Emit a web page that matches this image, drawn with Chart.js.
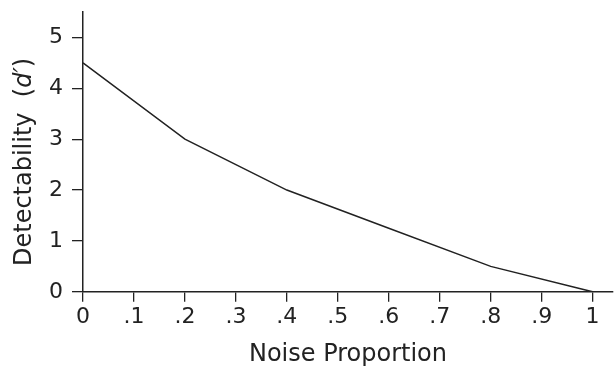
<!DOCTYPE html>
<html>
<head>
<meta charset="utf-8">
<script src="https://cdn.jsdelivr.net/npm/chart.js@4"></script>
<style>
  html, body { margin: 0; padding: 0; background: #fff; }
  #wrap { width: 615px; height: 373px; }
</style>
</head>
<body>
<div id="wrap"><canvas id="chart"></canvas></div>
<script>
const noise = [0, 0.2, 0.4, 0.6, 0.8, 1];
const dPrime = [4.5, 3, 2, 1.25, 0.5, 0];
const xTicks = [0, 0.1, 0.2, 0.3, 0.4, 0.5, 0.6, 0.7, 0.8, 0.9, 1];
const xTickLabels = ["0", ".1", ".2", ".3", ".4", ".5", ".6", ".7", ".8", ".9", "1"];
const yTicks = [0, 1, 2, 3, 4, 5];

const ink = "#222";
const font = "DejaVu Sans";

// y title has an italic d', so draw it by hand
const yTitle = {
  id: "yTitle",
  afterDraw(chart) {
    const ctx = chart.ctx;
    const area = chart.chartArea;
    const parts = [
      { text: "Detectability  (", style: "" },
      { text: "d\u2032", style: "italic " },
      { text: ")", style: "" }
    ];
    ctx.save();
    let total = 0;
    parts.forEach(p => {
      ctx.font = p.style + "24px '" + font + "'";
      p.w = ctx.measureText(p.text).width;
      total += p.w;
    });
    ctx.translate(25, (area.top + area.bottom) / 2 + 10);
    ctx.rotate(-Math.PI / 2);
    ctx.fillStyle = ink;
    ctx.textBaseline = "middle";
    let x = -total / 2;
    parts.forEach(p => {
      ctx.font = p.style + "24px '" + font + "'";
      ctx.fillText(p.text, x, 0);
      x += p.w;
    });
    ctx.restore();
  }
};

new Chart(document.getElementById("chart"), {
  type: "line",
  data: {
    datasets: [{
      data: noise.map((x, i) => ({ x: x, y: dPrime[i] })),
      borderColor: ink,
      borderWidth: 1.5,
      pointRadius: 0,
      fill: false,
      tension: 0
    }]
  },
  options: {
    responsive: true,
    maintainAspectRatio: false,
    animation: false,
    layout: { padding: { left: 40, top: 12, right: 2, bottom: 4 } },
    plugins: { legend: { display: false }, tooltip: { enabled: false } },
    scales: {
      x: {
        type: "linear",
        min: 0,
        max: 1.04,
        afterBuildTicks: s => { s.ticks = xTicks.map(v => ({ value: v })); },
        ticks: {
          color: ink,
          padding: 2,
          maxRotation: 0,
          autoSkip: false,
          font: { family: font, size: 22 },
          callback: (v, i) => xTickLabels[i]
        },
        grid: { drawOnChartArea: false, tickLength: 10, color: ink, lineWidth: 1.3 },
        border: { color: ink, width: 1.5 },
        title: {
          display: true,
          text: "Noise Proportion",
          color: ink,
          font: { family: font, size: 24 },
          padding: { top: 8, bottom: 0 }
        }
      },
      y: {
        min: 0,
        max: 5.5,
        afterBuildTicks: s => { s.ticks = yTicks.map(v => ({ value: v })); },
        // the top tick sits below the axis end, no need for label room
        afterFit: s => { s.paddingTop = 0; },
        ticks: {
          color: ink,
          padding: 9,
          font: { family: font, size: 22 }
        },
        grid: { drawOnChartArea: false, tickLength: 11, color: ink, lineWidth: 1.3 },
        border: { color: ink, width: 1.5 }
      }
    }
  },
  plugins: [yTitle]
});
</script>
</body>
</html>
